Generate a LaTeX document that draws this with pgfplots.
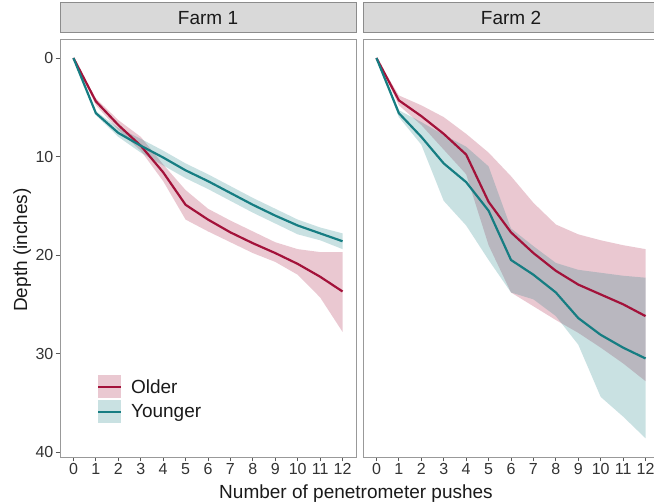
\documentclass[border=0pt]{standalone}
\usepackage{pgfplots}
\pgfplotsset{compat=1.18}
\usepackage{pgfplotstable}
\usepgfplotslibrary{fillbetween}
\usepackage{fontspec}
\setmainfont{Liberation Sans}
\definecolor{cOld}{HTML}{A3123A}
\definecolor{cYoung}{HTML}{167D82}
\definecolor{inkT}{HTML}{1A1A1A}
\definecolor{inkA}{HTML}{333333}

% x = pushes; om/olo/ohi = Older mean and ribbon; ym/ylo/yhi = Younger
\pgfplotstableread{
x  om   olo  ohi  ym   ylo  yhi
0  0    0    0    0    0    0
1  4.4  4.1  4.8  5.6  5.4  5.8
2  6.8  6.3  7.3  7.6  7.1  8.0
3  8.9  8.0  9.4  8.9  8.2  9.6
4  11.6 10.8 12.5 10.1 9.4  10.9
5  14.9 13.4 16.4 11.4 10.7 12.2
6  16.4 15.3 17.6 12.5 11.8 13.3
7  17.7 16.5 18.7 13.7 13.0 14.5
8  18.8 17.6 19.8 14.9 14.2 15.7
9  19.8 18.7 20.7 16.0 15.3 16.8
10 20.9 19.4 22.0 17.0 16.4 17.9
11 22.2 19.7 24.3 17.8 17.2 18.5
12 23.7 19.7 27.8 18.6 17.8 19.4
}\farmA
\pgfplotstableread{
x  om   olo  ohi  ym   ylo  yhi
0  0    0    0    0    0    0
1  4.3  3.8  4.8  5.6  5.3  6.0
2  5.9  4.8  6.8  8.0  6.5  8.8
3  7.7  6.0  9.3  10.7 7.8  14.5
4  9.8  7.7  11.8 12.6 9.0  17.0
5  14.6 9.6  19.0 15.5 11.0 20.5
6  17.7 12.0 23.8 20.5 17.3 23.8
7  19.8 14.7 25.2 22.0 19.1 24.5
8  21.6 16.9 26.6 23.8 20.8 26.2
9  23.0 17.9 27.9 26.4 21.5 29.1
10 24.0 18.5 29.4 28.1 21.8 34.4
11 25.0 19.0 31.0 29.4 22.1 36.4
12 26.2 19.4 32.8 30.5 22.3 38.6
}\farmB

\pgfplotsset{
  panel/.style={
    scale only axis, width=296bp, height=418bp,
    xmin=-0.6, xmax=12.6, ymin=-1.93, ymax=40.5, y dir=reverse,
    xtick={0,...,12}, ytick={0,10,20,30,40},
    xtick pos=bottom, ytick pos=left,
    tick align=outside, major tick length=4.5bp,
    tick style={black!65, line width=0.8bp},
    axis line style={black!40, line width=0.9bp},
    /pgf/number format/assume math mode=true,
    ticklabel style={font=\fontsize{16bp}{19bp}\selectfont, text=inkA, inner sep=2bp},
    title style={at={(0.5,1)}, anchor=south, fill=black!15, draw=black!45,
      line width=0.9bp, minimum width=296bp, minimum height=30bp, inner sep=0pt,
      text=inkT, font=\fontsize{19bp}{22bp}\selectfont},
  },
  ribO/.style={fill=cOld, fill opacity=0.23, draw=none, forget plot},
  ribY/.style={fill=cYoung, fill opacity=0.23, draw=none, forget plot},
}

\begin{document}
\begin{tikzpicture}

\begin{axis}[panel, at={(60bp,47bp)}, anchor=south west, title={Farm 1},
  legend style={at={(0.124,0.0806)}, anchor=south west, draw=none, fill=none,
    inner sep=0pt, row sep=1.7bp, legend cell align=left,
    nodes={inner sep=0pt, text=inkT, font=\fontsize{19bp}{22bp}\selectfont}},
]
\addplot[draw=none, name path=aolo, forget plot] table[x=x, y=olo] {\farmA};
\addplot[draw=none, name path=aohi, forget plot] table[x=x, y=ohi] {\farmA};
\addplot[ribO] fill between[of=aolo and aohi];
\addplot[draw=none, name path=aylo, forget plot] table[x=x, y=ylo] {\farmA};
\addplot[draw=none, name path=ayhi, forget plot] table[x=x, y=yhi] {\farmA};
\addplot[ribY] fill between[of=aylo and ayhi];
\addplot[cOld, line width=2.2bp,
  legend image code/.code={
    \path[draw=none, fill=cOld, fill opacity=0.23] (0bp,-11.5bp) rectangle (23bp,11.5bp);
    \path[draw=cOld, line width=2.2bp] (0bp,0bp) -- (23bp,0bp);
    \path (32bp,0bp);}]
  table[x=x, y=om] {\farmA};
\addlegendentry{Older}
\addplot[cYoung, line width=2.2bp,
  legend image code/.code={
    \path[draw=none, fill=cYoung, fill opacity=0.23] (0bp,-11.5bp) rectangle (23bp,11.5bp);
    \path[draw=cYoung, line width=2.2bp] (0bp,0bp) -- (23bp,0bp);
    \path (32bp,0bp);}]
  table[x=x, y=ym] {\farmA};
\addlegendentry{Younger}
\end{axis}

\begin{axis}[panel, at={(363bp,47bp)}, anchor=south west, title={Farm 2},
  ytick=\empty]
\addplot[draw=none, name path=bolo, forget plot] table[x=x, y=olo] {\farmB};
\addplot[draw=none, name path=bohi, forget plot] table[x=x, y=ohi] {\farmB};
\addplot[ribO] fill between[of=bolo and bohi];
\addplot[draw=none, name path=bylo, forget plot] table[x=x, y=ylo] {\farmB};
\addplot[draw=none, name path=byhi, forget plot] table[x=x, y=yhi] {\farmB};
\addplot[ribY] fill between[of=bylo and byhi];
\addplot[cOld, line width=2.2bp] table[x=x, y=om] {\farmB};
\addplot[cYoung, line width=2.2bp] table[x=x, y=ym] {\farmB};
\end{axis}

\node[anchor=base, text=inkT, font=\fontsize{19bp}{22bp}\selectfont]
  at (356bp,6bp) {Number of penetrometer pushes};
\node[anchor=base, rotate=90, text=inkT, font=\fontsize{19bp}{22bp}\selectfont]
  at (27bp,254bp) {Depth (inches)};

\pgfresetboundingbox
\useasboundingbox (0bp,0bp) rectangle (654bp,504bp);
\end{tikzpicture}
\end{document}
